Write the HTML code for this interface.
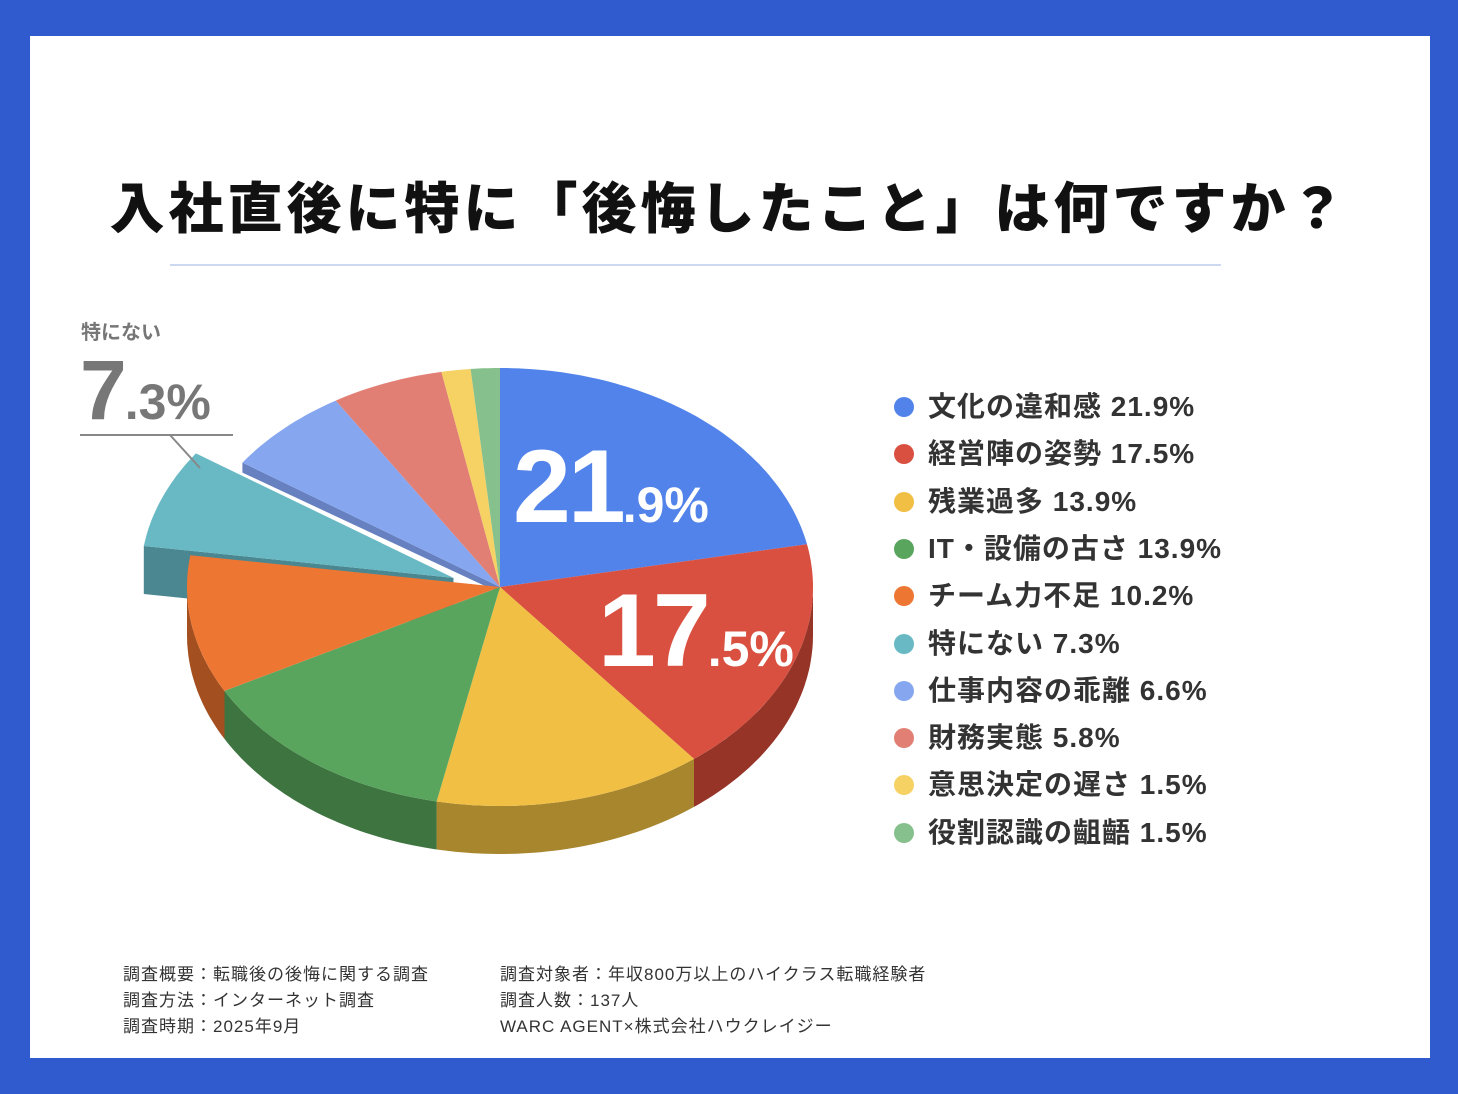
<!DOCTYPE html>
<html><head><meta charset="utf-8"><style>
body{margin:0;background:#2f5bcf;width:1458px;height:1094px;overflow:hidden;font-family:"Liberation Sans","Noto Sans CJK JP",sans-serif}
#card{position:absolute;left:30px;top:36px;width:1400px;height:1022px;background:#fff}
.t{position:absolute;white-space:nowrap}
</style></head><body>
<div id="card"></div>
<div class="t" style="left:0;width:1458px;text-align:center;top:164px;font-size:55px;font-weight:900;color:#111;letter-spacing:4px">入社直後に特に「後悔したこと」は何ですか？</div>
<div style="position:absolute;left:170px;top:264px;width:1051px;height:2px;background:#cdd9f0"></div>
<svg id="pie" width="1458" height="1094" style="position:absolute;left:0;top:0"></svg>
<div id="legend"></div>
<div class="t" style="left:81px;top:316px;font-size:20px;font-weight:700;color:#777">特にない</div>
<div class="t" style="left:80px;top:342px;color:#777;font-weight:700"><span style="font-size:84px;letter-spacing:-2px">7</span><span style="font-size:50px">.3%</span></div>
<div class="t" style="left:513px;top:428px;color:#fff;font-weight:700"><span style="font-size:104px;letter-spacing:-3px">21</span><span style="font-size:50px">.9%</span></div>
<div class="t" style="left:598px;top:572px;color:#fff;font-weight:700"><span style="font-size:104px;letter-spacing:-3px">17</span><span style="font-size:50px">.5%</span></div>
<div class="t" style="left:123px;top:962px;font-size:17px;line-height:26px;color:#333;letter-spacing:1px">調査概要：転職後の後悔に関する調査<br>調査方法：インターネット調査<br>調査時期：2025年9月</div>
<div class="t" style="left:500px;top:962px;font-size:17px;line-height:26px;color:#333;letter-spacing:1px">調査対象者：年収800万以上のハイクラス転職経験者<br>調査人数：137人<br>WARC AGENT×株式会社ハウクレイジー</div>
<script>
const categories=["文化の違和感","経営陣の姿勢","残業過多","IT・設備の古さ","チーム力不足","特にない","仕事内容の乖離","財務実態","意思決定の遅さ","役割認識の齟齬"];
const values=[21.9,17.5,13.9,13.9,10.2,7.3,6.6,5.8,1.5,1.5];
const labels=["21.9%","17.5%","13.9%","13.9%","10.2%","7.3%","6.6%","5.8%","1.5%","1.5%"];
const colors=["#5283ea","#d95040","#f1bf43","#59a55e","#ee7633","#68b9c3","#86a7f0","#e17f74","#f5d263","#86c08c"];
const sides=["#3b62b8","#963428","#a8862e","#3e7440","#a44f1f","#4a8790","#6680c0","#a85a52","#b89a40","#5e8c62"];
const explodeIndex=5;
const cx=500,cy=587,rx=313,ry=219,depth=48;
const svg=document.getElementById('pie');const NS="http://www.w3.org/2000/svg";
const total=values.reduce((a,b)=>a+b,0);
function pt(th,ox,oy,dy){return [cx+ox+rx*Math.sin(th),cy+oy-ry*Math.cos(th)+(dy||0)];}
function arc(a,b,ox,oy,dy){let s="";const n=Math.max(2,Math.ceil((b-a)/0.02));for(let i=0;i<=n;i++){const p=pt(a+(b-a)*i/n,ox,oy,dy);s+=p[0].toFixed(1)+","+p[1].toFixed(1)+" ";}return s;}
const slices=[];let acc=0;
values.forEach((v,i)=>{const a=acc/total*2*Math.PI;acc+=v;const b=acc/total*2*Math.PI;const m=(a+b)/2;
 const ex=i===explodeIndex;
 slices.push({a,b,m,ox:ex?50*Math.sin(m):0,oy:ex?-25*Math.cos(m):0});});
slices.forEach((s,i)=>{const a=Math.max(s.a,Math.PI/2),b=Math.min(s.b,3*Math.PI/2);if(b<=a)return;
 const p=document.createElementNS(NS,'polygon');
 const top=arc(a,b,s.ox,s.oy,0);const bot=arc(a,b,s.ox,s.oy,depth).trim().split(" ").reverse().join(" ");
 p.setAttribute('points',top+bot);p.setAttribute('fill',sides[i]);
 
 
 svg.appendChild(p);});
(function(){const s=slices[explodeIndex];const e=pt(s.a,s.ox,s.oy,0);const c=[cx+s.ox,cy+s.oy];
 const p=document.createElementNS(NS,'polygon');
 p.setAttribute('points',`${c[0]},${c[1]} ${e[0]},${e[1]} ${e[0]},${e[1]+depth} ${c[0]},${c[1]+depth}`);
 p.setAttribute('fill',sides[explodeIndex]);
 
 
 svg.appendChild(p);
 const n=slices[explodeIndex+1];const f=pt(n.a,0,0,0);
 const q=document.createElementNS(NS,'polygon');
 q.setAttribute('points',`${cx},${cy} ${f[0]},${f[1]} ${f[0]},${f[1]+10} ${cx},${cy+6}`);
 q.setAttribute('fill',sides[explodeIndex+1]);
 
 
 svg.appendChild(q);})();
slices.forEach((s,i)=>{const p=document.createElementNS(NS,'polygon');
 p.setAttribute('points',(cx+s.ox)+","+(cy+s.oy)+" "+arc(s.a,s.b,s.ox,s.oy,0));
 p.setAttribute('fill',colors[i]);
 
 
 svg.appendChild(p);});
[[80,435,233,435],[170,435,200,468]].forEach((l,k)=>{const e=document.createElementNS(NS,'line');
 e.setAttribute('x1',l[0]);e.setAttribute('y1',l[1]);e.setAttribute('x2',l[2]);e.setAttribute('y2',l[3]);
 e.setAttribute('stroke','#888');e.setAttribute('stroke-width','2');
 
 
 svg.appendChild(e);});
const lg=document.getElementById('legend');
categories.forEach((c,i)=>{const d=document.createElement('div');
 
 
 d.className='t';d.style.left='894px';d.style.top=(385+i*47.3)+'px';d.style.fontSize='28px';d.style.fontWeight='700';d.style.color='#333';d.style.letterSpacing='1px';
 d.innerHTML=`<span style="display:inline-block;width:20px;height:20px;border-radius:50%;background:${colors[i]};margin-right:14px;vertical-align:-1px"></span>${c} ${labels[i]}`;
 lg.appendChild(d);});
</script>
</body></html>
